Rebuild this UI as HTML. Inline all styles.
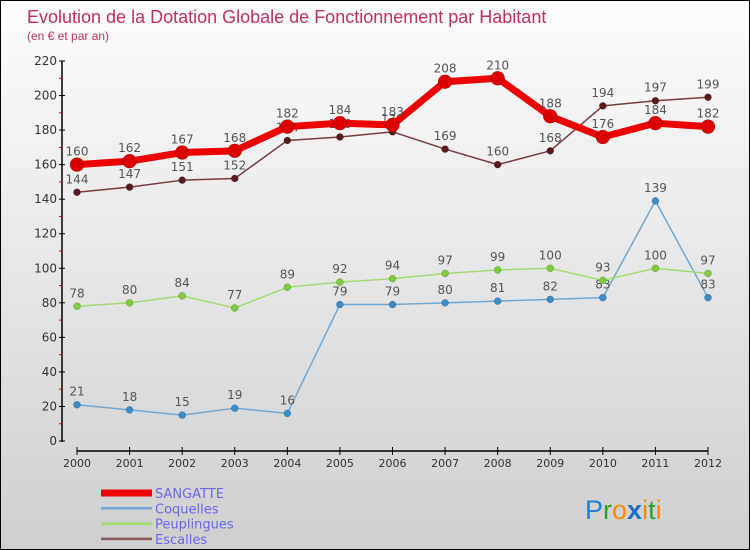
<!DOCTYPE html>
<html><head><meta charset="utf-8"><style>
body{margin:0}
#c{width:750px;height:550px;position:relative;background:linear-gradient(#fdfdfd,#cfcfcf);box-sizing:border-box;border:1px solid #000;overflow:hidden;font-family:"DejaVu Sans","Liberation Sans",sans-serif}
svg{position:absolute;left:0;top:0}
</style></head><body>
<div id="c">
<svg id="s" width="750" height="550">
<text x="26" y="22" font-size="18" fill="#c0305a" font-family="Liberation Sans, sans-serif">Evolution de la Dotation Globale de Fonctionnement par Habitant</text>
<text x="26" y="39" font-size="12" fill="#c0305a" font-family="Liberation Sans, sans-serif">(en € et par an)</text>
<g id="axes"></g>
<g id="series"></g>
<g id="legend"></g>
<text x="584" y="518" font-size="27" font-family="Liberation Sans, sans-serif"><tspan fill="#1f7fd6">P</tspan><tspan fill="#2ca02c">r</tspan><tspan fill="#ff8a00">o</tspan><tspan fill="#1f6fc6" font-weight="bold">x</tspan><tspan fill="#ff8a00">i</tspan><tspan fill="#2ca02c">t</tspan><tspan fill="#ff8a00">i</tspan></text>
</svg>
</div>
<script>
const years=[2000,2001,2002,2003,2004,2005,2006,2007,2008,2009,2010,2011,2012];
const yTicks=[0,20,40,60,80,100,120,140,160,180,200,220];
const sangatte=[160,162,167,168,182,184,183,208,210,188,176,184,182];
const coquelles=[21,18,15,19,16,79,79,80,81,82,83,139,83];
const peuplingues=[78,80,84,77,89,92,94,97,99,100,93,100,97];
const escalles=[144,147,151,152,174,176,179,169,160,168,194,197,199];
const NS="http://www.w3.org/2000/svg";
const X=i=>76+i*(707-76)/(years.length-1);
const Y=v=>440-v*380/220;
function mk(t,a,p){const e=document.createElementNS(NS,t);for(const k in a)e.setAttribute(k,a[k]);p.appendChild(e);return e;}
const ax=document.getElementById('axes');
let l=mk('line',{x1:61,y1:Y(220),x2:61,y2:441,stroke:'#000','stroke-width':1.5},ax);


l=mk('line',{x1:X(0),y1:450,x2:X(12),y2:450,stroke:'#000','stroke-width':1.5},ax);


yTicks.forEach((v,i)=>{
 mk('line',{x1:58,y1:Y(v),x2:64,y2:Y(v),stroke:'#000'},ax);
 if(i<yTicks.length-1)mk('line',{x1:58,y1:Y(v+10),x2:61,y2:Y(v+10),stroke:'#e00'},ax);
 const t=mk('text',{x:56,y:Y(v)+4,'font-size':12,fill:'#333','text-anchor':'end'},ax);t.textContent=v;
 
 
});
years.forEach((y,i)=>{
 mk('line',{x1:X(i),y1:446,x2:X(i),y2:454,stroke:'#000'},ax);
 const t=mk('text',{x:X(i),y:466,'font-size':11,fill:'#333','text-anchor':'middle'},ax);t.textContent=y;
 
 
});
const sg=document.getElementById('series');
function draw(name,vals,color,w,r,dot){
 const g=mk('g',{},sg);
 
 
 mk('polyline',{points:vals.map((v,i)=>X(i)+','+Y(v)).join(' '),fill:'none',stroke:color,'stroke-width':w,'stroke-linejoin':'round'},g);
 vals.forEach((v,i)=>{
  const c=mk('circle',{cx:X(i),cy:Y(v),r:r,fill:dot,stroke:'rgba(0,0,0,0.3)','stroke-width':0.5},g);
  
  
  const t=mk('text',{x:X(i),y:Y(v)-9,'font-size':12,fill:'#555','text-anchor':'middle'},g);t.textContent=v;
  
  
 });
}
draw('coquelles',coquelles,'#6fa8d6',1.5,3.5,'#3a8cc8');
draw('peuplingues',peuplingues,'#9fdc70',1.5,3.5,'#7ccc3c');
draw('escalles',escalles,'#7a3a3a',1.5,3.5,'#5a1a1a');
draw('sangatte',sangatte,'#ee0000',7,7,'#dd0000');
const lg=document.getElementById('legend');
const names=['SANGATTE','Coquelles','Peuplingues','Escalles'];
const cols=['#ee0000','#6fa8d6','#9fdc70','#8a5a5a'];
names.forEach((n,i)=>{
 const y=492+i*15.3;
 mk('line',{x1:100,y1:y,x2:151,y2:y,stroke:cols[i],'stroke-width':i==0?7:2.5},lg);
 const t=mk('text',{x:154,y:y+5,'font-size':13,fill:'#6666ee'},lg);t.textContent=n;
 
 
});
</script>
</body></html>
